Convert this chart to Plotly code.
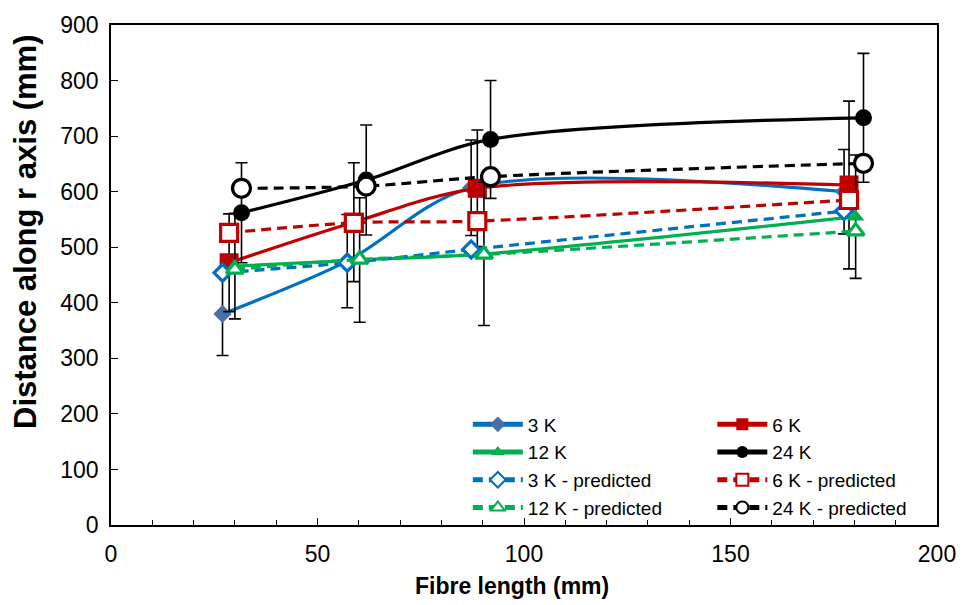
import plotly.graph_objects as go

# Fibre length (mm) for each tow size (slightly offset so bars don't overlap)
x_3k = [27.0, 57.2, 87.2, 177.5]
x_6k = [28.6, 58.8, 88.7, 178.7]
x_12k = [30.0, 60.2, 90.3, 180.3]
x_24k = [31.6, 61.8, 91.9, 182.2]

# Measured distance along r axis (mm) with standard deviation
y_3k = [380, 475, 607, 600]
e_3k = [75, 84, 86, 76]
y_6k = [472, 545, 606, 612]
e_6k = [88, 107, 105, 151]
y_12k = [466, 477, 488, 555]
e_12k = [95, 112, 129, 111]
y_24k = [562, 621, 694, 733]
e_24k = [90, 99, 106, 116]

# Model predictions
p_3k = [454, 472, 496, 565]
p_6k = [526, 544, 547, 585]
p_12k = [460, 478, 487, 529]
p_24k = [606, 610, 627, 651]

BLUE = "#0070C0"
BLUE_MK = "#4A6EA8"
RED = "#C00000"
GREEN = "#00B050"
BLACK = "#000000"
FONT = "Liberation Sans, Arial, sans-serif"

fig = go.Figure()


def err(vals):
    return dict(type="data", array=vals, visible=True, color=BLACK,
                thickness=1.6, width=6)


def measured(name, x, y, e, color, mk_color, symbol, size, legend):
    fig.add_trace(go.Scatter(
        x=x, y=y, name=name, mode="lines+markers", legend=legend,
        line=dict(color=color, width=3.2, shape="spline", smoothing=0.9),
        marker=dict(symbol=symbol, size=size, color=mk_color, line=dict(width=0)),
        error_y=err(e),
    ))


def predicted(name, x, y, color, symbol, size, legend):
    fig.add_trace(go.Scatter(
        x=x, y=y, name=name, mode="lines+markers", legend=legend,
        line=dict(color=color, width=3.2, dash="10px,6px", shape="spline", smoothing=0.9),
        marker=dict(symbol=symbol, size=size, color="white",
                    line=dict(color=color, width=3.2)),
    ))


measured("3 K", x_3k, y_3k, e_3k, BLUE, BLUE_MK, "diamond", 14, "legend")
measured("6 K", x_6k, y_6k, e_6k, RED, RED, "square", 19, "legend2")
measured("12 K", x_12k, y_12k, e_12k, GREEN, GREEN, "triangle-up", 15, "legend")
measured("24 K", x_24k, y_24k, e_24k, BLACK, BLACK, "circle", 17, "legend2")
predicted("3 K - predicted", x_3k, p_3k, BLUE, "diamond", 13, "legend")
predicted("6 K - predicted", x_6k, p_6k, RED, "square", 17, "legend2")
predicted("12 K - predicted", x_12k, p_12k, GREEN, "triangle-up", 15, "legend")
predicted("24 K - predicted", x_24k, p_24k, BLACK, "circle", 18, "legend2")

legend_common = dict(
    orientation="v", yanchor="top", xanchor="left",
    bgcolor="rgba(0,0,0,0)", borderwidth=0, tracegroupgap=0,
    itemsizing="constant", itemwidth=50,
    font=dict(family=FONT, size=19, color=BLACK),
)

fig.update_layout(
    width=968, height=605,
    margin=dict(l=111, r=30, t=20, b=80),
    paper_bgcolor="white", plot_bgcolor="white",
    font=dict(family=FONT, color=BLACK),
    legend=dict(x=0.432, y=0.239, **legend_common),
    legend2=dict(x=0.728, y=0.239, **legend_common),
    xaxis=dict(
        range=[0, 200], dtick=50, tick0=0,
        showline=True, linecolor=BLACK, linewidth=1.6, mirror=True,
        ticks="inside", ticklen=7, tickwidth=1.3, tickcolor=BLACK,
        minor=dict(dtick=10, ticks="inside", ticklen=5, tickwidth=1.2, tickcolor=BLACK),
        showgrid=False, zeroline=False,
        tickfont=dict(family=FONT, size=23, color=BLACK),
        ticklabelstandoff=8,
    ),
    yaxis=dict(
        range=[0, 900], dtick=100, tick0=0,
        showline=True, linecolor=BLACK, linewidth=1.6, mirror=True,
        ticks="inside", ticklen=7, tickwidth=1.3, tickcolor=BLACK,
        showgrid=False, zeroline=False,
        tickfont=dict(family=FONT, size=23, color=BLACK),
        ticklabelstandoff=6,
    ),
    annotations=[
        dict(text="<b>Fibre length (mm)</b>", xref="paper", yref="paper",
             x=0.485, y=0, yshift=-61, xanchor="center", yanchor="middle",
             showarrow=False, font=dict(family=FONT, size=23, color=BLACK)),
        dict(text="<b>Distance along r axis (mm)</b>", xref="paper", yref="paper",
             x=0, xshift=-86, y=0.586, xanchor="center", yanchor="middle",
             textangle=-90, showarrow=False,
             font=dict(family=FONT, size=31, color=BLACK)),
    ],
)

fig.write_html("out.html")
